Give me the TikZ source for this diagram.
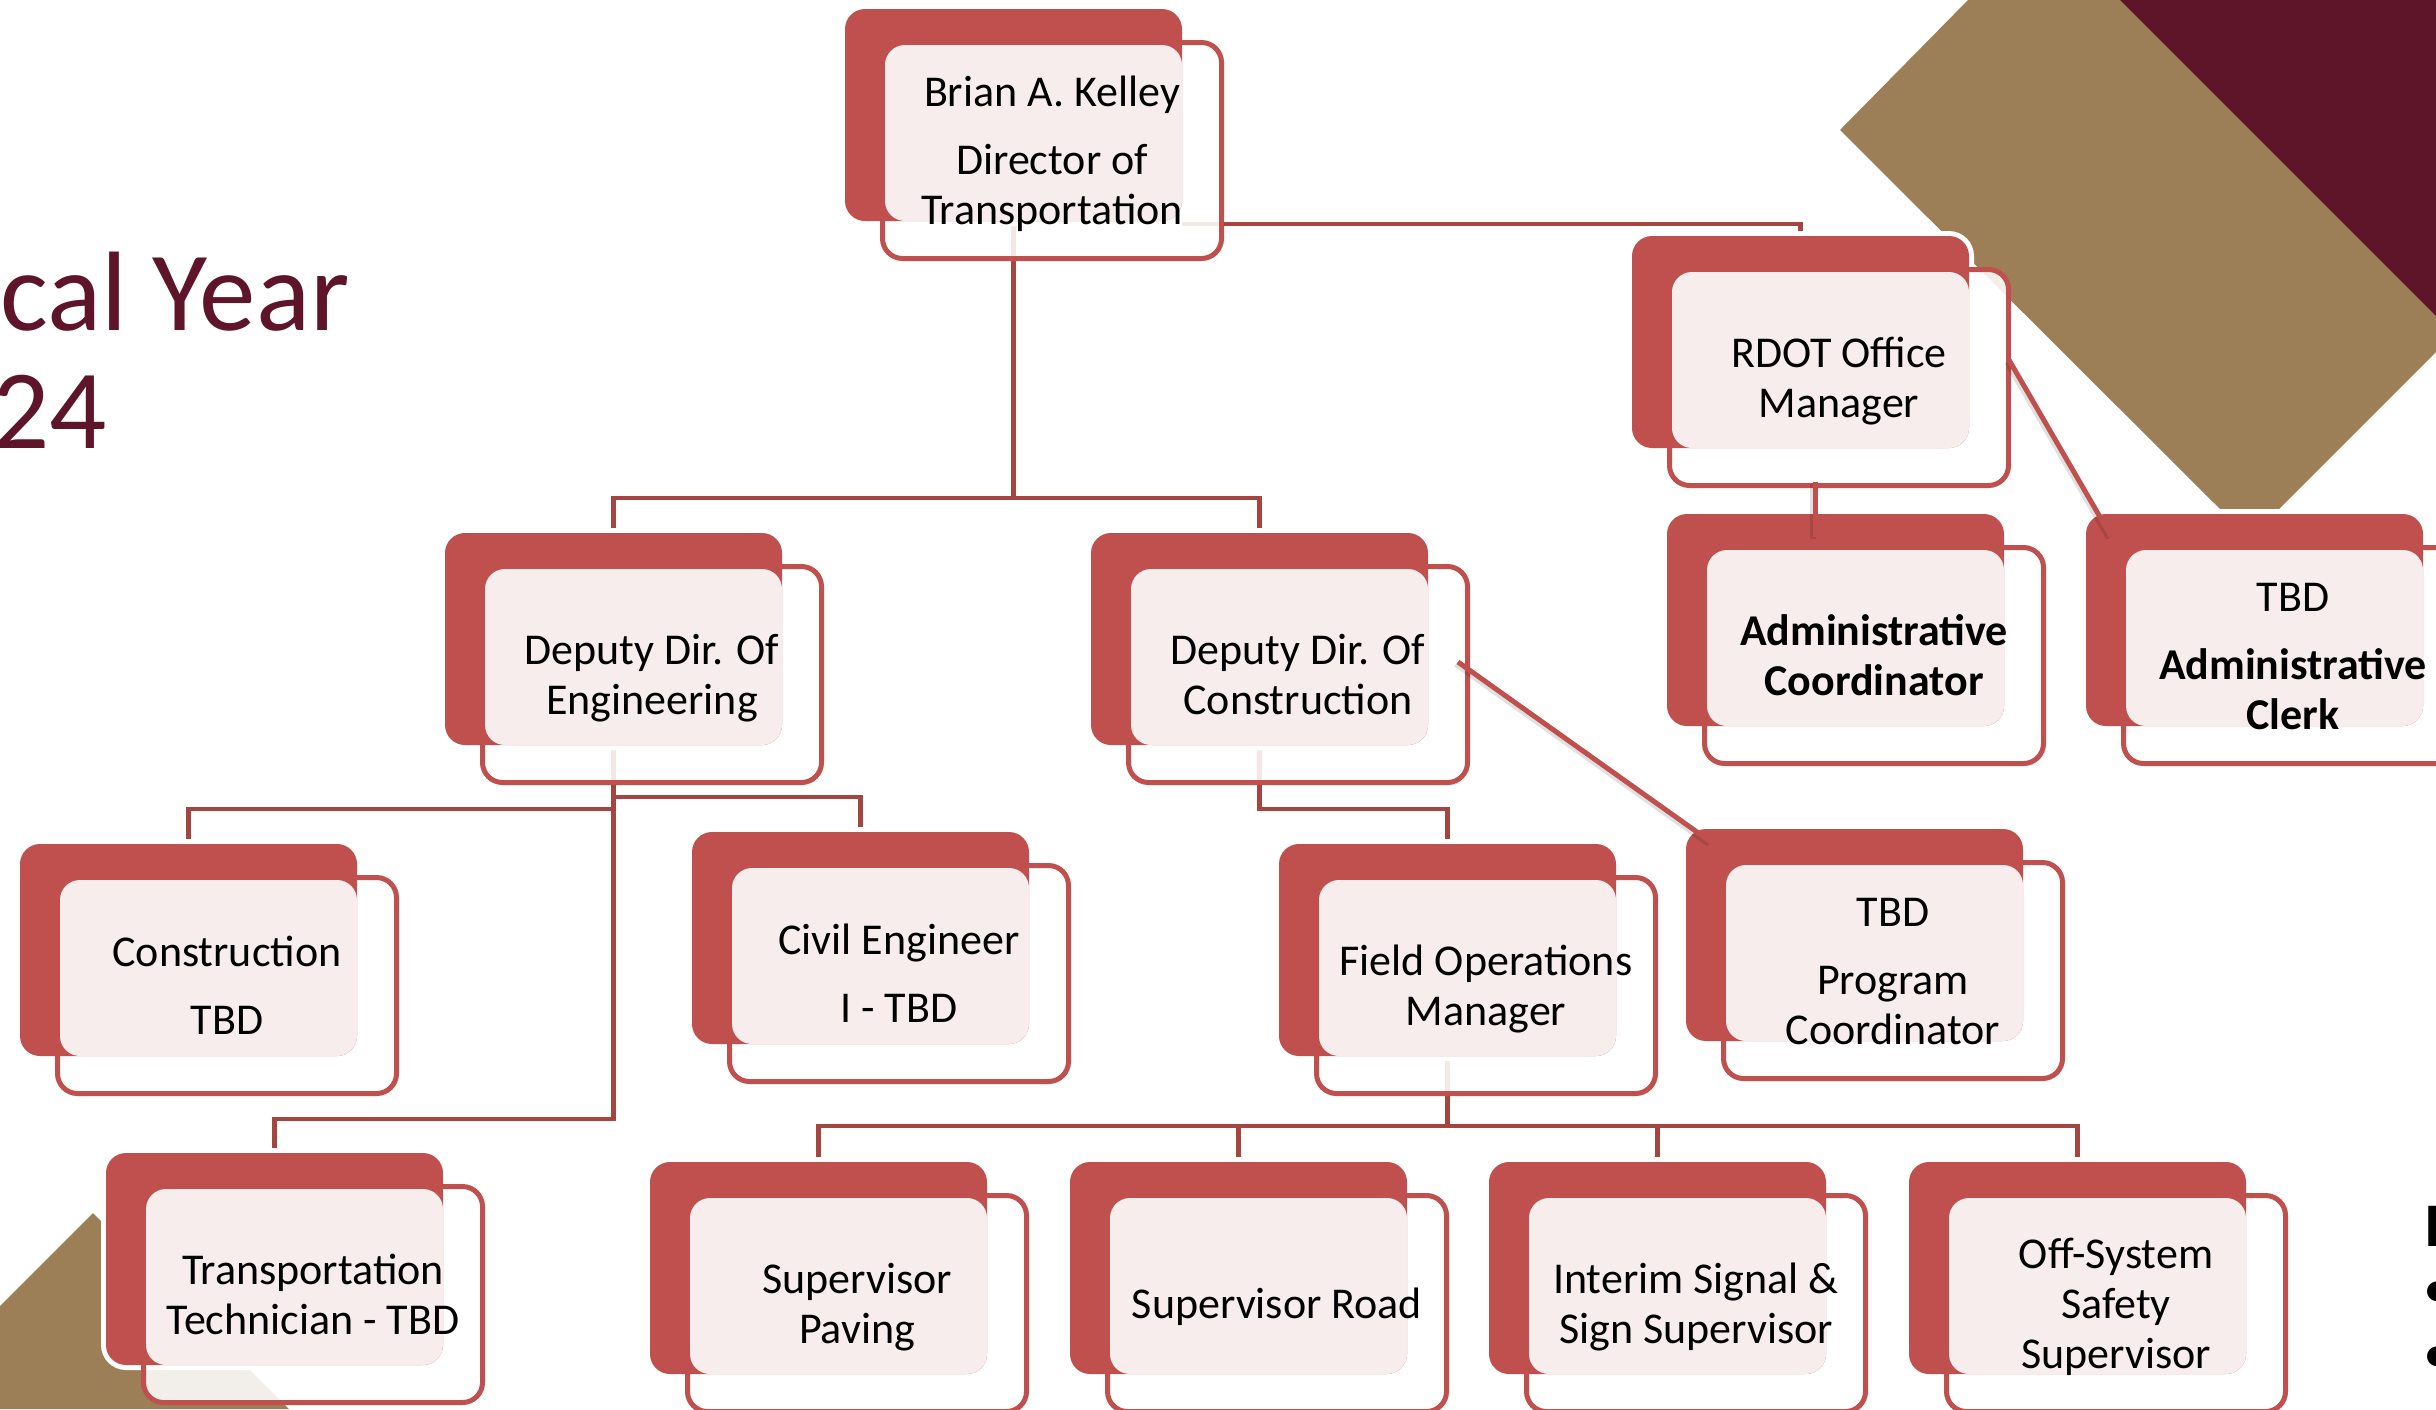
\documentclass[tikz,border=0pt]{standalone}
\usepackage{fontspec}
\setmainfont{Carlito}
\usetikzlibrary{calc}
\definecolor{boxred}{HTML}{C0504D}
\definecolor{linered}{HTML}{A5453F}
\definecolor{bgtan}{HTML}{9C7F57}
\definecolor{bgmaroon}{HTML}{5E1429}
\pgfdeclarelayer{backdrop}
\pgfdeclarelayer{links}
\pgfdeclarelayer{toplinks}
\pgfsetlayers{backdrop,links,main,toplinks}
\tikzset{
  halo/.style={anchor=north west, inner sep=0pt, outer sep=0pt, minimum width=173.5pt, minimum height=111pt, rounded corners=12.5pt, fill=white},
  frontbox/.style={anchor=north west, inner sep=0pt, outer sep=0pt, minimum width=169.5pt, minimum height=108pt, rounded corners=10pt, draw=boxred, line width=2.5pt, fill=white, fill opacity=0.88},
  backbox/.style={anchor=north west, inner sep=0pt, outer sep=0pt, minimum width=168.5pt, minimum height=106pt, rounded corners=10pt, fill=boxred},
  pinkbox/.style={anchor=north west, inner sep=0pt, outer sep=0pt, minimum width=148.5pt, minimum height=88pt, rounded corners=10pt, fill=white, fill opacity=0.9},
  boxlabel/.style={align=center, inner sep=0pt, font=\fontsize{22}{25}\selectfont, text=black},
  elbow/.style={draw=linered, line width=2.25pt},
  link/.style={draw=boxred, line width=2.5pt},
  linkshadow/.style={draw=black, opacity=0.12, line width=3pt},
  titletext/.style={anchor=base west, inner sep=0pt, text=bgmaroon, font=\fontsize{56.5}{60}\selectfont},
}
\newcommand\orgbox[4]{%
  \node[halo] (#1H) at (#2-5,#3-5) {};
  \node[frontbox] (#1F) at (#2+37.5,#3+33.5) {};
  \node[backbox] (#1B) at (#2,#3) {};
  \node[pinkbox] (#1P) at (#2+40,#3+36) {};
  \node[boxlabel] (#1) at (#2+207,#3+146) {#4};
}
\begin{document}
\begin{tikzpicture}[x=0.5pt,y=-0.5pt]
\useasboundingbox (0,0) rectangle (2436,1409);

\begin{pgfonlayer}{backdrop}
  \fill[white] (0,0) rectangle (2436,1409);
  \fill[bgtan] (1968,0) -- (2436,0) -- (2436,352) -- (2279,509) -- (2220,509) -- (1840,130) -- cycle;
  \fill[bgmaroon] (2120,0) -- (2436,0) -- (2436,316) -- cycle;
  \fill[bgtan] (0,1306) -- (93,1213) -- (289,1409) -- (0,1409) -- cycle;
\end{pgfonlayer}

\node[titletext] (fyA) at (0,330) {cal Year};
\node[titletext] (fyB) at (-8,448) {24};

\orgbox{brian}{845}{9}{\strut Brian A. Kelley\\[9pt]Director of\\Transportation\strut}
\orgbox{rdot}{1632}{236}{\strut RDOT Office\\Manager\strut}
\orgbox{adminc}{1667}{514}{\strut\textbf{Administrative}\\\textbf{Coordinator}\strut}
\orgbox{clerk}{2086}{514}{\strut TBD\\[9pt]\textbf{Administrative}\\\textbf{Clerk}\strut}
\orgbox{depeng}{445}{533}{\strut Deputy Dir. Of\\Engineering\strut}
\orgbox{depcon}{1091}{533}{\strut Deputy Dir. Of\\Construction\strut}
\orgbox{const}{20}{844}{\strut Construction\\[9pt]TBD\strut}
\orgbox{civil}{692}{832}{\strut Civil Engineer\\[9pt]I - TBD\strut}
\orgbox{trans}{106}{1153}{\strut Transportation\\Technician - TBD\strut}
\orgbox{field}{1279}{844}{\strut Field Operations\\Manager\strut}
\orgbox{prog}{1686}{829}{\strut TBD\\[9pt]Program\\Coordinator\strut}
\orgbox{pav}{650}{1162}{\strut Supervisor\\Paving\strut}
\orgbox{road}{1070}{1162}{\strut Supervisor Road\strut}
\orgbox{interim}{1489}{1162}{\strut Interim Signal \&\\Sign Supervisor\strut}
\orgbox{off}{1909}{1162}{\strut Off-System\\Safety\\Supervisor\strut}

\node[anchor=north west, inner sep=0pt, font=\bfseries\fontsize{31}{31}\selectfont] (keyI) at (2424,1206) {I};
\node[anchor=west, inner sep=0pt, font=\fontsize{28}{28}\selectfont] (bulA) at (2423,1295) {•};
\node[anchor=west, inner sep=0pt, font=\fontsize{28}{28}\selectfont] (bulB) at (2423,1360) {•};

\begin{pgfonlayer}{links}
  \coordinate (busA) at (0,224);
  \coordinate (busB) at (0,498);
  \coordinate (busC) at (0,797);
  \coordinate (busD) at (0,809);
  \coordinate (busE) at (0,1119);
  \coordinate (busF) at (0,1126);
  \draw[elbow] (brianB.east |- busA) -| (rdotB.north);
  \draw[elbow] (brianB.south) -- (brianB.south |- busB) -| (depengB.north);
  \draw[elbow] (brianB.south |- busB) -| (depconB.north);
  \draw[elbow] (depengB.south) -- (depengB.south |- busE) -| (transB.north);
  \draw[elbow] (depengB.south |- busD) -| (constB.north);
  \draw[elbow] (depengB.south |- busC) -| (civilB.north);
  \draw[elbow] (depconB.south) -- (depconB.south |- busD) -| (fieldB.north);
  \draw[elbow] (fieldB.south) -- (fieldB.south |- busF);
  \draw[elbow] (pavB.north) |- (offB.north |- busF) -- (offB.north);
  \draw[elbow] (roadB.north) -- (roadB.north |- busF);
  \draw[elbow] (interimB.north) -- (interimB.north |- busF);
\end{pgfonlayer}

\begin{pgfonlayer}{toplinks}
  \draw[linkshadow, transform canvas={shift={(-1pt,-1pt)}}] ($(depconF.east)+(-9.5,-12.5)$) -- ($(progB.north west)+(25,13)$);
  \draw[link] ($(depconF.east)+(-9.5,-12.5)$) -- ($(progB.north west)+(25,13)$);
  \draw[linkshadow, transform canvas={shift={(-1pt,-1pt)}}] ($(rdotF.south)+(-24,-4)$) -- ($(admincB.north)+(-20.5,23)$);
  \draw[link] ($(rdotF.south)+(-24,-4)$) -- ($(admincB.north)+(-20.5,23)$);
  \draw[linkshadow, transform canvas={shift={(-1pt,-1pt)}}] ($(rdotF.east)+(0.5,-17.5)$) -- ($(clerkB.north west)+(25,22)$);
  \draw[link] ($(rdotF.east)+(0.5,-17.5)$) -- ($(clerkB.north west)+(25,22)$);
\end{pgfonlayer}
\end{tikzpicture}
\end{document}
